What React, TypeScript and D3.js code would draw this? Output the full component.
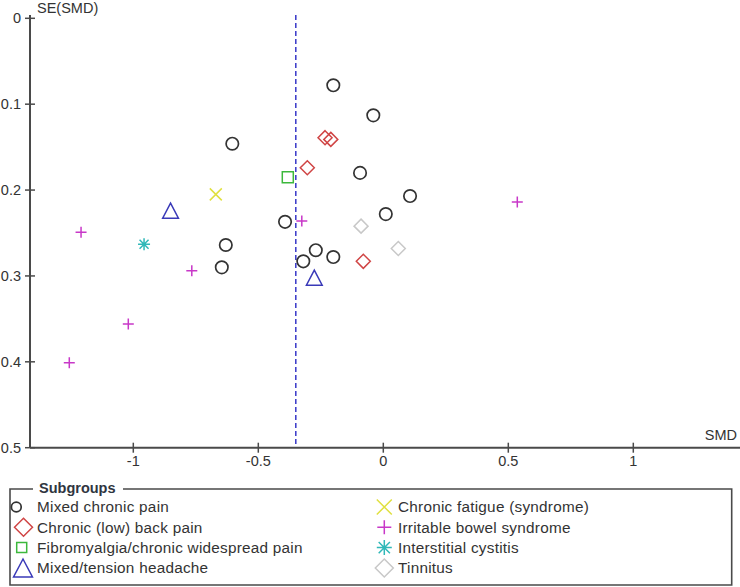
import React from "react";
import * as d3 from "d3";

// ---- Data ----
const mixedChronicPainSMD = [-0.2, -0.04, -0.604, -0.093, 0.107, 0.01, -0.393, -0.63, -0.646, -0.27, -0.2, -0.32];
const mixedChronicPainSE = [0.078, 0.113, 0.146, 0.18, 0.207, 0.228, 0.237, 0.264, 0.29, 0.27, 0.278, 0.283];

const backPainSMD = [-0.233, -0.21, -0.304, -0.08];
const backPainSE = [0.139, 0.141, 0.174, 0.283];

const fibromyalgiaSMD = [-0.382];
const fibromyalgiaSE = [0.185];

const headacheSMD = [-0.851, -0.276];
const headacheSE = [0.224, 0.302];

const fatigueSMD = [-0.67];
const fatigueSE = [0.205];

const ibsSMD = [-1.209, -0.766, -1.02, -1.256, -0.326, 0.536];
const ibsSE = [0.249, 0.294, 0.356, 0.401, 0.236, 0.214];

const cystitisSMD = [-0.957];
const cystitisSE = [0.263];

const tinnitusSMD = [-0.089, 0.06];
const tinnitusSE = [0.242, 0.268];

const pooledSMD = -0.35;

const xTicks = [-1, -0.5, 0, 0.5, 1];
const xTickLabels = ["-1", "-0.5", "0", "0.5", "1"];
const yTicks = [0, 0.1, 0.2, 0.3, 0.4, 0.5];
const yTickLabels = ["0", "0.1", "0.2", "0.3", "0.4", "0.5"];

type Shape = "circle" | "diamond" | "square" | "triangle" | "x" | "plus" | "asterisk";

const groups: { name: string; smd: number[]; se: number[]; shape: Shape; color: string }[] = [
  { name: "Mixed chronic pain", smd: mixedChronicPainSMD, se: mixedChronicPainSE, shape: "circle", color: "#333333" },
  { name: "Chronic (low) back pain", smd: backPainSMD, se: backPainSE, shape: "diamond", color: "#d04545" },
  { name: "Fibromyalgia/chronic widespread pain", smd: fibromyalgiaSMD, se: fibromyalgiaSE, shape: "square", color: "#3cb83c" },
  { name: "Mixed/tension headache", smd: headacheSMD, se: headacheSE, shape: "triangle", color: "#3a3ab8" },
  { name: "Chronic fatigue (syndrome)", smd: fatigueSMD, se: fatigueSE, shape: "x", color: "#e0e040" },
  { name: "Irritable bowel syndrome", smd: ibsSMD, se: ibsSE, shape: "plus", color: "#c838c8" },
  { name: "Interstitial cystitis", smd: cystitisSMD, se: cystitisSE, shape: "asterisk", color: "#30b8b8" },
  { name: "Tinnitus", smd: tinnitusSMD, se: tinnitusSE, shape: "diamond", color: "#c8c8c8" },
];

const FONT = "'Liberation Sans', Arial, sans-serif";

function markerPath(shape: Shape, s: number): string {
  switch (shape) {
    case "diamond":
      return `M0,${-s}L${s},0L0,${s}L${-s},0Z`;
    case "square":
      return `M${-s},${-s}H${s}V${s}H${-s}Z`;
    case "triangle":
      return `M0,${-s}L${s * 1.05},${s}L${-s * 1.05},${s}Z`;
    case "x":
      return `M${-s},${-s}L${s},${s}M${s},${-s}L${-s},${s}`;
    case "plus":
      return `M${-s},0H${s}M0,${-s}V${s}`;
    case "asterisk": {
      const d = s * 0.75;
      return `M${-s},0H${s}M0,${-s}V${s}M${-d},${-d}L${d},${d}M${d},${-d}L${-d},${d}`;
    }
    default:
      return d3.arc()({ innerRadius: 0, outerRadius: s, startAngle: 0, endAngle: Math.PI * 2 }) as string;
  }
}

const plotSize: Record<Shape, number> = {
  circle: 6.2,
  diamond: 7,
  square: 5.5,
  triangle: 7.5,
  x: 6,
  plus: 5.5,
  asterisk: 6,
};

const legendSize: Record<Shape, number> = {
  circle: 4.9,
  diamond: 9,
  square: 5,
  triangle: 9,
  x: 7.5,
  plus: 7,
  asterisk: 7.5,
};

function Marker({ shape, color, s, x, y }: { shape: Shape; color: string; s: number; x: number; y: number }) {
  if (shape === "circle") {
    return <circle cx={x} cy={y} r={s} fill="none" stroke={color} strokeWidth={1.7} />;
  }
  return (
    <path
      d={markerPath(shape, s)}
      transform={`translate(${x},${y})`}
      fill="none"
      stroke={color}
      strokeWidth={1.5}
    />
  );
}

export default function App() {
  const width = 740;
  const height = 587;
  const x = d3.scaleLinear().domain([-1.4132, 1.4268]).range([30, 740]);
  const y = d3.scaleLinear().domain([0, 0.5]).range([18.3, 447.7]);
  const axisColor = "#4a4a4a";
  const textColor = "#333";

  const legendTextX = [37, 398];
  const legendRowY = [507, 527.3, 547.6, 568];
  const legendMarkerX: Record<Shape, number> = {
    circle: 16.3,
    diamond: 23.5,
    square: 21.7,
    triangle: 23,
    x: 384,
    plus: 384.7,
    asterisk: 384,
  };

  return (
    <svg
      width={width}
      height={height}
      style={{ position: "absolute", left: 0, top: 0, background: "#fff" }}
      fontFamily={FONT}
    >
      {/* dashed pooled line */}
      <line
        x1={x(pooledSMD)}
        x2={x(pooledSMD)}
        y1={15}
        y2={y(0.5)}
        stroke="#3838c8"
        strokeWidth={1.5}
        strokeDasharray="5,3"
      />

      {/* y axis */}
      <line x1={x.range()[0]} x2={x.range()[0]} y1={15} y2={y(0.5)} stroke={axisColor} strokeWidth={2} />
      {yTicks.map((t, i) => (
        <g key={"yt" + i}>
          <line x1={25} x2={35} y1={y(t)} y2={y(t)} stroke={axisColor} strokeWidth={1.5} />
          <text x={21} y={y(t) + 5} textAnchor="end" fontSize={14.5} fill={textColor}>
            {yTickLabels[i]}
          </text>
        </g>
      ))}
      <text x={37} y={12.7} fontSize={14.5} fill={textColor}>
        SE(SMD)
      </text>

      {/* x axis */}
      <line x1={x.range()[0]} x2={740} y1={y(0.5)} y2={y(0.5)} stroke={axisColor} strokeWidth={2} />
      {xTicks.map((t, i) => (
        <g key={"xt" + i}>
          <line x1={x(t)} x2={x(t)} y1={y(0.5) - 5} y2={y(0.5) + 5} stroke={axisColor} strokeWidth={1.5} />
          <text x={x(t)} y={466} textAnchor="middle" fontSize={14.5} fill={textColor}>
            {xTickLabels[i]}
          </text>
        </g>
      ))}
      <text x={737} y={440} textAnchor="end" fontSize={14.5} fill={textColor}>
        SMD
      </text>

      {/* points */}
      {groups.map((g, gi) =>
        g.smd.map((v, i) => (
          <Marker key={gi + "-" + i} shape={g.shape} color={g.color} s={plotSize[g.shape]} x={x(v)} y={y(g.se[i])} />
        ))
      )}

      {/* legend box */}
      <path d={`M33,489H10V585H731.7V489H123`} fill="none" stroke={axisColor} strokeWidth={1.6} />
      <text x={39} y={493} fontSize={14.5} fontWeight="bold" fill="#2f3540">
        Subgroups
      </text>
      {groups.map((g, gi) => {
        const col = gi < 4 ? 0 : 1;
        const row = gi % 4;
        const mx = col === 0 ? legendMarkerX[g.shape] : 384.3;
        return (
          <g key={"lg" + gi}>
            <Marker shape={g.shape} color={g.color} s={legendSize[g.shape]} x={mx} y={legendRowY[row]} />
            <text
              x={legendTextX[col]}
              y={legendRowY[row] + 5.3}
              fontSize={15.3}
              letterSpacing={0.25}
              fill={textColor}
            >
              {g.name}
            </text>
          </g>
        );
      })}
    </svg>
  );
}
